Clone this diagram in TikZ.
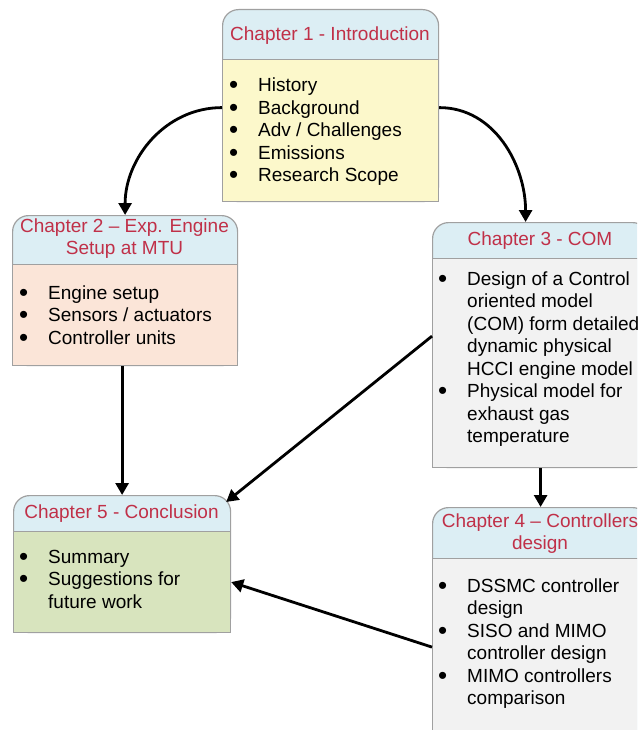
\documentclass[tikz,border=0pt]{standalone}
\usepackage{fontspec}
\setmainfont{Liberation Sans}
\usetikzlibrary{arrows.meta}
\definecolor{hdr}{RGB}{220,238,244}
\definecolor{bordc}{RGB}{160,160,160}
\definecolor{titc}{RGB}{192,48,72}
\definecolor{yelb}{RGB}{252,248,203}
\definecolor{peach}{RGB}{251,229,216}
\definecolor{grayb}{RGB}{242,242,242}
\definecolor{greenb}{RGB}{216,228,190}
\newcommand{\fs}{\fontsize{19}{22.5}\selectfont}
\newcommand{\bul}{\hspace*{1pt}\raisebox{-2pt}{\fontsize{26}{22.5}\selectfont\textbullet}}
\begin{document}
\begin{tikzpicture}[x=1pt,y=-1pt,
  frame/.style={draw=bordc, line width=1.2pt, inner sep=0pt, anchor=north west},
  hdrbox/.style={frame, fill=hdr, rounded corners=16pt},
  title/.style={text=titc, font=\fs, inner sep=0pt, anchor=base},
  items/.style={font=\fs, inner sep=0pt, anchor=base west},
  arr/.style={line width=2.8pt, -{Triangle[length=12pt,width=13pt]}}]
\useasboundingbox (0,0) rectangle (637,730);
\clip (0,0) rectangle (637,730);
\fill[white] (0,0) rectangle (637,730);

% Chapter 1
\node[hdrbox, minimum width=216pt, minimum height=192pt] (c1) at (222,9) {};
\node[frame, fill=yelb, minimum width=216pt, minimum height=142pt] (c1b) at (222,59) {};
\node[title] (t1) at (330,41) {Chapter 1 - Introduction};
\node[items] (l1) at (228,92) {\fs\begin{tabular}[t]{@{}p{30pt}@{}l@{}}
\bul & History\\ \bul & Background\\ \bul & Adv / Challenges\\ \bul & Emissions\\ \bul & Research Scope
\end{tabular}};

% Chapter 2
\node[hdrbox, minimum width=225pt, minimum height=150pt] (c2) at (12,215) {};
\node[frame, fill=peach, minimum width=225pt, minimum height=101pt] (c2b) at (12,264) {};
\node[title] (t2) at (124.5,232) {\fs\begin{tabular}[t]{@{}c@{}}Chapter 2 -- Exp. Engine\\ Setup at MTU\end{tabular}};
\node[items] (l2) at (18,299) {\fs\begin{tabular}[t]{@{}p{30pt}@{}l@{}}
\bul & Engine setup\\ \bul & Sensors / actuators\\ \bul & Controller units
\end{tabular}};

% Chapter 3
\node[hdrbox, minimum width=216pt, minimum height=245pt] (c3) at (432,222) {};
\node[frame, fill=grayb, minimum width=216pt, minimum height=209pt] (c3b) at (432,258) {};
\node[title] (t3) at (540,245) {Chapter 3 - COM};
\node[items] (l3) at (437,285) {\fs\begin{tabular}[t]{@{}p{30pt}@{}l@{}}
\bul & Design of a Control\\ & oriented model\\ & (COM) form detailed\\ & dynamic physical\\ & HCCI engine model\\
\bul & Physical model for\\ & exhaust gas\\ & temperature
\end{tabular}};

% Chapter 4
\node[hdrbox, minimum width=216pt, minimum height=228pt] (c4) at (432,507) {};
\node[frame, fill=grayb, minimum width=216pt, minimum height=177pt] (c4b) at (432,558) {};
\node[title] (t4) at (540,527) {\fs\begin{tabular}[t]{@{}c@{}}Chapter 4 -- Controllers\\ design\end{tabular}};
\node[items] (l4) at (437,592) {\fs\begin{tabular}[t]{@{}p{30pt}@{}l@{}}
\bul & DSSMC controller\\ & design\\ \bul & SISO and MIMO\\ & controller design\\ \bul & MIMO controllers\\ & comparison
\end{tabular}};

% Chapter 5
\node[hdrbox, minimum width=217pt, minimum height=137pt] (c5) at (13,495) {};
\node[frame, fill=greenb, minimum width=217pt, minimum height=101pt] (c5b) at (13,531) {};
\node[title] (t5) at (121.5,518) {Chapter 5 - Conclusion};
\node[items] (l5) at (18,563) {\fs\begin{tabular}[t]{@{}p{30pt}@{}l@{}}
\bul & Summary\\ \bul & Suggestions for\\ & future work
\end{tabular}};

% Connectors
\draw[arr] ([yshift=-2pt]c1.west) to[out=180,in=90] (c2.north);
\draw[arr] ([yshift=-2pt]c1.east) to[out=0,in=90] ([xshift=-15pt]c3.north);
\draw[arr] (c2b.south -| c5.north) -- (c5.north);
\draw[arr] ([yshift=27pt]c3b.west) -- ([xshift=-5pt,yshift=-7pt]c5.north east);
\draw[arr] (c3b.south) -- (c4.north);
\draw[arr] (c4b.west) -- (c5b.east);
\end{tikzpicture}
\end{document}
